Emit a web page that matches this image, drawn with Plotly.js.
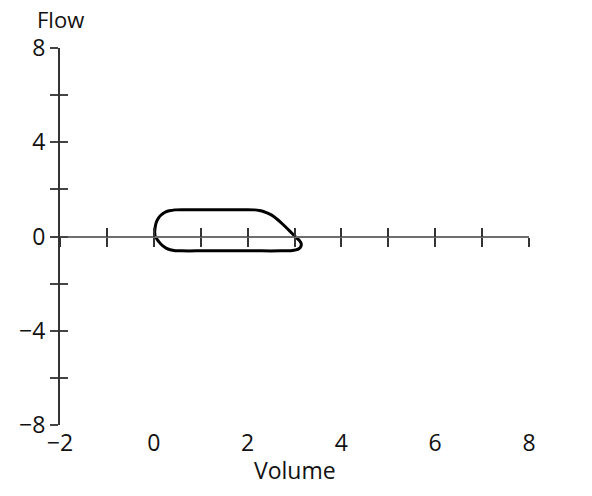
<!DOCTYPE html>
<html>
<head>
<meta charset="utf-8">
<script src="https://cdn.plot.ly/plotly-3.0.1.min.js"></script>
<style>html,body{margin:0;padding:0;background:#fff;}#chart{width:592px;height:496px;}</style>
</head>
<body>
<div id="chart"></div>
<script>
// Flow-volume loop
const volume = [0.03, 0.02, 0.03, 0.05, 0.09, 0.15, 0.23, 0.33, 0.45, 0.6, 1.0, 1.5, 2.0, 2.15, 2.25, 2.35, 2.45, 2.55, 2.65, 2.75, 2.85, 2.95, 3.03, 3.1, 3.14, 3.14, 3.1, 3.03, 2.92, 2.7, 2.3, 1.8, 1.3, 0.9, 0.6, 0.46, 0.35, 0.26, 0.18, 0.12, 0.07, 0.03];
const flow   = [0.0, 0.2, 0.4, 0.58, 0.75, 0.9, 1.02, 1.09, 1.13, 1.14, 1.14, 1.14, 1.14, 1.13, 1.1, 1.05, 0.97, 0.86, 0.7, 0.52, 0.33, 0.13, -0.03, -0.16, -0.28, -0.4, -0.51, -0.57, -0.6, -0.61, -0.61, -0.61, -0.61, -0.61, -0.61, -0.6, -0.56, -0.49, -0.38, -0.25, -0.12, 0.0];

const xLabelTicks = [-2, 0, 2, 4, 6, 8];
const yLabelTicks = [-8, -4, 0, 4, 8];
const xRange = [-2, 8];
const yRange = [-8, 8];

const axisColor = '#333';
const xLineColor = '#6e6e6e';
const txtFont = {family: 'Open Sans, DejaVu Sans, sans-serif', size: 23, color: '#111'};

const traces = [
  {x: volume, y: flow, type: 'scatter', mode: 'lines', line: {color: '#000', width: 3, shape: 'spline', smoothing: 0.4}, hoverinfo: 'skip', xaxis: 'x', yaxis: 'y'},
  {x: [], y: [], type: 'scatter', mode: 'lines', xaxis: 'x2', yaxis: 'y', showlegend: false},
  {x: [], y: [], type: 'scatter', mode: 'lines', xaxis: 'x3', yaxis: 'y', showlegend: false},
  {x: [], y: [], type: 'scatter', mode: 'lines', xaxis: 'x', yaxis: 'y2', showlegend: false}
];

const layout = {
  width: 592, height: 496,
  margin: {l: 60, r: 63, t: 48, b: 71},
  paper_bgcolor: '#fff', plot_bgcolor: '#fff',
  showlegend: false,
  font: txtFont,
  xaxis: {
    range: xRange, showgrid: false, zeroline: false, showline: false,
    tickmode: 'array', tickvals: xLabelTicks, ticks: '', ticklabelstandoff: 2,
    tickfont: txtFont,
    anchor: 'y'
  },
  xaxis2: {
    range: xRange, overlaying: 'x', anchor: 'free', position: 0.5, side: 'bottom',
    showgrid: false, zeroline: false, showline: true, linecolor: xLineColor, linewidth: 2,
    tickmode: 'linear', tick0: 0, dtick: 1, ticks: 'outside', ticklen: 9, tickwidth: 2, tickcolor: axisColor,
    showticklabels: false
  },
  xaxis3: {
    range: xRange, overlaying: 'x', anchor: 'free', position: 0.5, side: 'bottom',
    showgrid: false, zeroline: false, showline: false,
    tickmode: 'linear', tick0: 0, dtick: 1, ticks: 'inside', ticklen: 9, tickwidth: 2, tickcolor: axisColor,
    showticklabels: false
  },
  yaxis: {
    range: yRange, showgrid: false, zeroline: false, showline: true, linecolor: axisColor, linewidth: 2,
    tickmode: 'array', tickvals: yLabelTicks, ticks: 'outside', ticklen: 8, tickwidth: 2, tickcolor: '#444',
    minor: {tickmode: 'linear', tick0: 0, dtick: 2, ticks: 'outside', ticklen: 8, tickwidth: 2, tickcolor: '#444', showgrid: false},
    tickfont: txtFont, anchor: 'x'
  },
  yaxis2: {
    range: yRange, overlaying: 'y', anchor: 'x', side: 'left',
    showgrid: false, zeroline: false, showline: false,
    tickmode: 'linear', tick0: 0, dtick: 2, ticks: 'inside', ticklen: 8, tickwidth: 2, tickcolor: '#444',
    showticklabels: false
  },
  annotations: [
    {text: 'Flow', xref: 'paper', yref: 'paper', x: 0, y: 1.078, xanchor: 'center', yanchor: 'middle', showarrow: false, font: {family: txtFont.family, size: 22, color: '#111'}},
    {text: 'Volume', xref: 'paper', yref: 'paper', x: 0.5, y: -0.119, xanchor: 'center', yanchor: 'middle', showarrow: false, font: txtFont}
  ]
};

Plotly.newPlot('chart', traces, layout, {displayModeBar: false, staticPlot: true});
</script>
</body>
</html>
